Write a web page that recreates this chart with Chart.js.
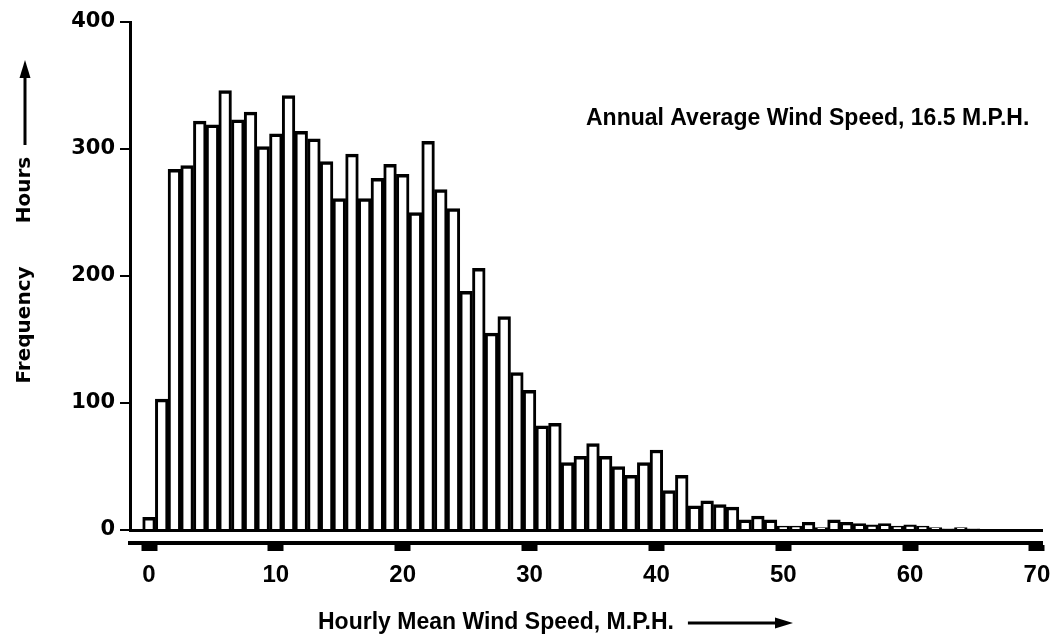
<!DOCTYPE html>
<html>
<head>
<meta charset="utf-8">
<script src="https://cdn.jsdelivr.net/npm/chart.js@4.4.1/dist/chart.umd.min.js"></script>
<style>
  html, body { margin: 0; padding: 0; background: #fff; }
  #wrap { width: 1061px; height: 640px; position: relative; }
</style>
</head>
<body>
<div id="wrap"><canvas id="windChart"></canvas></div>
<script>
// hours per year at each hourly mean wind speed (m.p.h.)
const speeds = [
  0, 1, 2, 3, 4, 5, 6, 7, 8, 9,
  10, 11, 12, 13, 14, 15, 16, 17, 18, 19,
  20, 21, 22, 23, 24, 25, 26, 27, 28, 29,
  30, 31, 32, 33, 34, 35, 36, 37, 38, 39,
  40, 41, 42, 43, 44, 45, 46, 47, 48, 49,
  50, 51, 52, 53, 54, 55, 56, 57, 58, 59,
  60, 61, 62, 63, 64, 65
];
const hours = [
  10, 103, 284, 287, 322, 319, 346, 323, 329, 302,
  312, 342, 314, 308, 290, 261, 296, 261, 277, 288,
  280, 250, 306, 268, 253, 188, 206, 155, 168, 124,
  110, 82, 84, 53, 58, 68, 58, 50, 43, 53,
  63, 31, 43, 19, 23, 20, 18, 8, 11, 8,
  3, 3, 6, 2, 8, 6, 5, 4, 5, 3,
  4, 3, 2, 1, 2, 1
];
const xTicks = [0, 10, 20, 30, 40, 50, 60, 70];
const yTicks = [0, 100, 200, 300, 400];

const noteText = 'Annual Average Wind Speed, 16.5 M.P.H.';
const xTitle = 'Hourly Mean Wind Speed, M.P.H.';
const yTitleLow = 'Frequency';
const yTitleHigh = 'Hours';

function arrow(ctx, x1, y1, x2, y2) {
  const ang = Math.atan2(y2 - y1, x2 - x1);
  const len = 18, half = 5.5;
  const bx = x2 - len * Math.cos(ang), by = y2 - len * Math.sin(ang);
  ctx.beginPath();
  ctx.lineWidth = 3;
  ctx.moveTo(x1, y1);
  ctx.lineTo(bx, by);
  ctx.stroke();
  ctx.beginPath();
  ctx.moveTo(x2, y2);
  ctx.lineTo(bx - half * Math.sin(ang), by + half * Math.cos(ang));
  ctx.lineTo(bx + half * Math.sin(ang), by - half * Math.cos(ang));
  ctx.closePath();
  ctx.fill();
}

// titles, note and arrows
const textPlugin = {
  id: 'textPlugin',
  afterDraw(chart) {
    const ctx = chart.ctx;
    ctx.save();
    ctx.fillStyle = '#000';
    ctx.strokeStyle = '#000';
    ctx.textBaseline = 'middle';
    ctx.textAlign = 'left';

    ctx.font = "bold 23px 'Liberation Sans'";
    ctx.fillText(noteText, 586, 119);

    ctx.font = "bold 23px 'Liberation Sans'";
    ctx.fillText(xTitle, 318, 623);
    const w = ctx.measureText(xTitle).width;
    arrow(ctx, 318 + w + 14, 623, 793, 623);

    ctx.save();
    ctx.font = "bold 20px 'DejaVu Sans'";
    ctx.translate(25, 0);
    ctx.rotate(-Math.PI / 2);
    ctx.textAlign = 'center';
    ctx.fillText(yTitleLow, -325, 0);
    ctx.fillText(yTitleHigh, -190, 0);
    ctx.restore();
    arrow(ctx, 25, 145, 25, 60);
    ctx.restore();
  }
};

new Chart(document.getElementById('windChart'), {
  type: 'bar',
  data: {
    datasets: [{
      data: speeds.map((s, i) => ({ x: s, y: hours[i] })),
      backgroundColor: '#fff',
      borderColor: '#000',
      borderWidth: { top: 3.5, left: 3, right: 3, bottom: 0 },
      borderSkipped: false,
      barPercentage: 1,
      categoryPercentage: 1,
      xAxisID: 'x',
      yAxisID: 'y',
    }],
  },
  options: {
    responsive: true,
    maintainAspectRatio: false,
    animation: false,
    layout: { padding: { top: 22, right: 19, bottom: 0, left: 0 } },
    plugins: {
      legend: { display: false },
      tooltip: { enabled: false },
    },
    scales: {
      x: {
        type: 'linear',
        position: 'bottom',
        weight: 0,
        offset: false,
        min: -1.5,
        max: 70.4,
        ticks: { display: false },
        grid: { display: false, offset: false },
        border: { display: true, color: '#000', width: 3 },
        afterFit: (s) => { s.height = 13; },
      },
      x2: {
        type: 'linear',
        position: 'bottom',
        weight: 1,
        offset: false,
        min: -1.5,
        max: 70.4,
        afterBuildTicks: (s) => { s.ticks = xTicks.map(v => ({ value: v })); },
        ticks: {
          color: '#000',
          padding: 10,
          maxRotation: 0,
          font: { family: "'Liberation Sans'", weight: 'bold', size: 24 },
        },
        grid: {
          display: true,
          offset: false,
          drawOnChartArea: false,
          color: '#000',
          tickLength: 8,
          tickWidth: 16,
        },
        border: { display: true, color: '#000', width: 4 },
        afterFit: (s) => { s.height = 97; },
      },
      y: {
        type: 'linear',
        min: 0,
        max: 400,
        afterBuildTicks: (s) => { s.ticks = yTicks.map(v => ({ value: v })); },
        ticks: {
          color: '#000',
          padding: 5,
          font: { family: "'DejaVu Sans'", weight: 'bold', size: 21 },
        },
        grid: {
          drawOnChartArea: false,
          color: '#000',
          tickLength: 10,
          lineWidth: 2,
        },
        border: { display: true, color: '#000', width: 3 },
        afterFit: (s) => { s.width = 130; },
      },
    },
  },
  plugins: [textPlugin],
});
</script>
</body>
</html>
